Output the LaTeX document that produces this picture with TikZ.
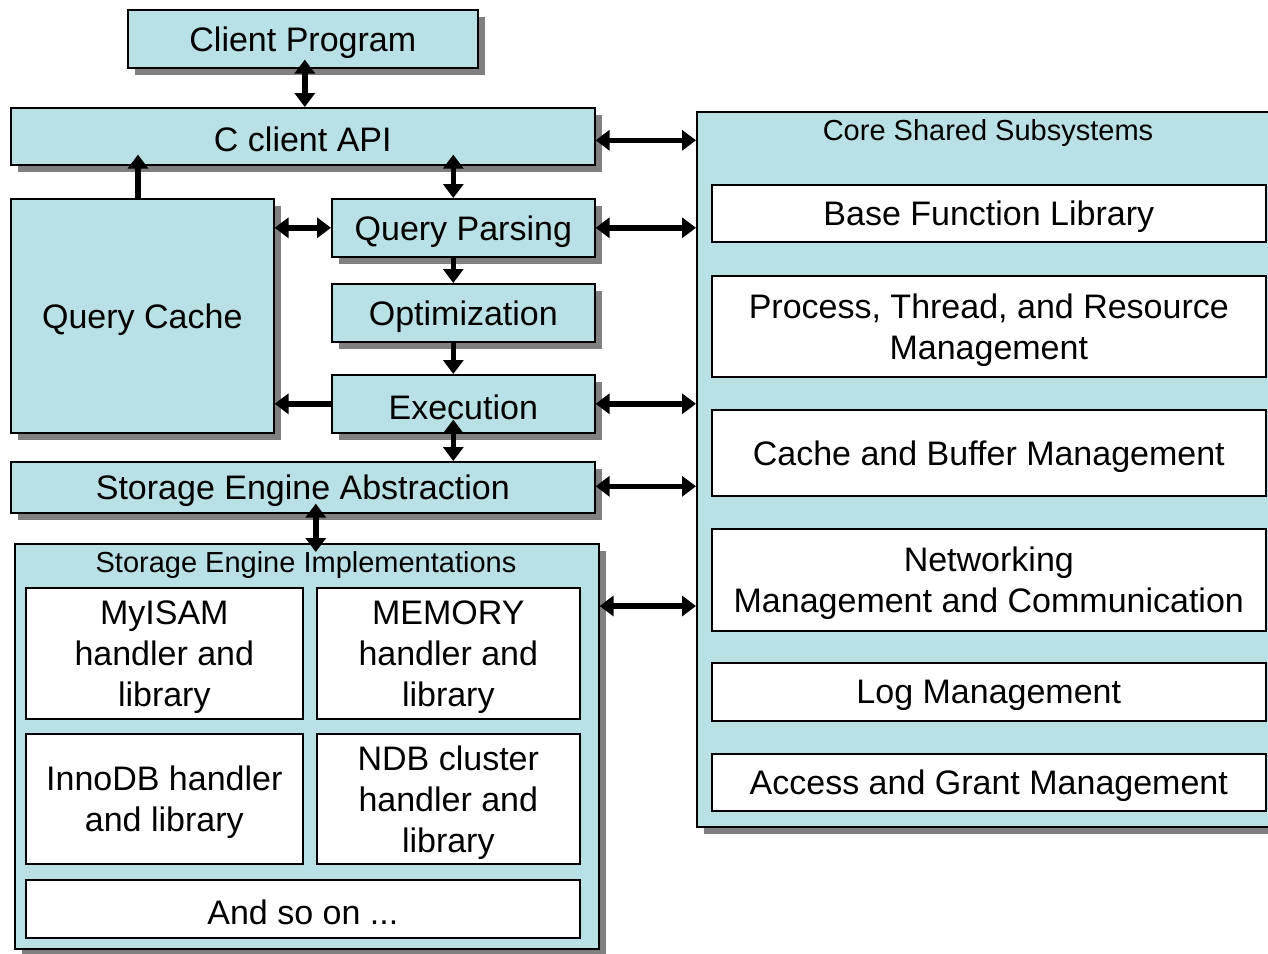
\documentclass[tikz,border=0pt]{standalone}
\usepackage{fontspec}
\setmainfont{Liberation Sans}
\usetikzlibrary{arrows.meta,shadows,calc}
\definecolor{boxfill}{RGB}{185,224,228}
\definecolor{shadowgray}{RGB}{128,128,128}
\begin{document}
\begin{tikzpicture}[x=1pt,y=-1pt,
  tstyle/.style={inner sep=0pt, align=center, font=\fontsize{34}{41}\selectfont, yshift=-3.5pt},
  txt/.style={label={[tstyle]center:{#1}}},
  base/.style={draw=black, line width=1.6pt, anchor=north west, inner sep=0pt},
  box/.style={base, fill=boxfill, drop shadow={shadow xshift=7pt, shadow yshift=-7pt, opacity=1, fill=shadowgray}},
  wbox/.style={base, fill=white},
  lbl/.style={font=\fontsize{29}{34}\selectfont, inner sep=0pt},
  tip/.style={Triangle[width=20pt,length=14pt]},
  dbl/.style={line width=5.5pt, {Triangle[width=20pt,length=14pt]}-{Triangle[width=20pt,length=14pt]}},
  sgl/.style={line width=5.5pt, -{Triangle[width=20pt,length=14pt]}}]
\useasboundingbox (0,0) rectangle (1268,953);
% left column
\node[box, minimum width=350pt, minimum height=58pt, txt={Client Program}] (cp) at (127,9) {};
\node[box, minimum width=584pt, minimum height=57pt, txt={C client API}] (api) at (10,107) {};
\node[box, minimum width=263pt, minimum height=234pt, txt={Query Cache}] (qc) at (10,198) {};
\node[box, minimum width=263pt, minimum height=58pt, txt={Query Parsing}] (qp) at (331,198) {};
\node[box, minimum width=263pt, minimum height=58pt, txt={Optimization}] (op) at (331,283) {};
\node[box, minimum width=263pt, minimum height=58pt, txt={Execution}] (ex) at (331,374) {};
\node[box, minimum width=584pt, minimum height=51pt, txt={Storage Engine Abstraction}] (sea) at (10,461) {};
% storage engine implementations
\node[box, minimum width=584pt, minimum height=405pt] (sei) at (14,543) {};
\node[lbl] (seil) at (306,565) {Storage Engine Implementations};
\node[wbox, minimum width=277pt, minimum height=131pt, txt={MyISAM\\handler and\\library}] (myisam) at (25,587) {};
\node[wbox, minimum width=263pt, minimum height=131pt, txt={MEMORY\\handler and\\library}] (memory) at (316,587) {};
\node[wbox, minimum width=277pt, minimum height=130pt, txt={InnoDB handler\\and library}] (innodb) at (25,733) {};
\node[wbox, minimum width=263pt, minimum height=130pt, txt={NDB cluster\\handler and\\library}] (ndb) at (316,733) {};
\node[wbox, minimum width=554pt, minimum height=58pt, txt={And so on ...}] (etc) at (25,879) {};
% core shared subsystems
\node[box, minimum width=580pt, minimum height=715pt] (core) at (696,111) {};
\node[lbl] (corel) at (988,133) {Core Shared Subsystems};
\node[wbox, minimum width=554pt, minimum height=57pt, txt={Base Function Library}] (bfl) at (711,184) {};
\node[wbox, minimum width=554pt, minimum height=101pt, txt={Process, Thread, and Resource\\Management}] (ptr) at (711,275) {};
\node[wbox, minimum width=554pt, minimum height=86pt, txt={Cache and Buffer Management}] (cbm) at (711,409) {};
\node[wbox, minimum width=554pt, minimum height=102pt, txt={Networking\\Management and Communication}] (net) at (711,528) {};
\node[wbox, minimum width=554pt, minimum height=58pt, txt={Log Management}] (log) at (711,662) {};
\node[wbox, minimum width=554pt, minimum height=57pt, txt={Access and Grant Management}] (agm) at (711,753) {};
% connector end points
\coordinate (seie) at ($(sei.north east)+(0,63)$);
\coordinate (seic) at (core.west |- seie);
% connectors
\draw[dbl] ([xshift=2pt,yshift=9pt]cp.south) -- ([xshift=2pt]cp.south |- api.north);
\draw[dbl] ([yshift=-4pt]api.east) -- ([yshift=-4pt]api.east -| core.west);
\draw[sgl] (qc.north -| 138,0) -- ([yshift=11pt]api.south -| 138,0);
\draw[dbl] ([xshift=-10pt,yshift=11pt]qp.north |- api.south) -- ([xshift=-10pt]qp.north);
\draw[dbl] (qc.east |- qp.west) -- (qp.west);
\draw[dbl] (qp.east) -- (qp.east -| core.west);
\draw[sgl] ([xshift=-10pt]qp.south) -- ([xshift=-10pt]op.north);
\draw[sgl] ([xshift=-10pt]op.south) -- ([xshift=-10pt]ex.north);
\draw[sgl] (ex.west) -- (ex.west -| qc.east);
\draw[dbl] (ex.east) -- (ex.east -| core.west);
\draw[dbl] ([xshift=-10pt,yshift=14pt]ex.south) -- ([xshift=-10pt]ex.south |- sea.north);
\draw[dbl] ([yshift=1pt]sea.east) -- ([yshift=1pt]sea.east -| core.west);
\draw[dbl] ([xshift=9pt,yshift=10pt]sei.north |- sea.south) -- ([xshift=9pt,yshift=-9pt]sei.north);
\draw[dbl] (seie) -- (seic);
\end{tikzpicture}
\end{document}
